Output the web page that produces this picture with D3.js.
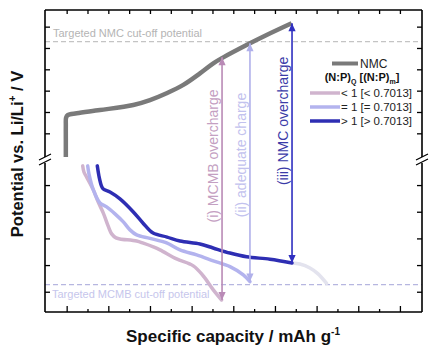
<!DOCTYPE html>
<html>
<head>
<meta charset="utf-8">
<script src="https://cdn.jsdelivr.net/npm/d3@7"></script>
<style>
  body { margin: 0; background: #fff; }
  svg { display: block; font-family: Arial, "Liberation Sans", sans-serif; }
</style>
</head>
<body>
<div id="chart"></div>
<script>
// NMC charge curve (upper panel, V vs Li/Li+)
const nmcCap = [-0.4, -0.4, -0.4, -0.3, 0.5, 4.8, 16, 32, 40, 48, 56, 64, 70.4, 75.2, 88, 96, 108];
const nmcV = [3.389, 3.469, 3.539, 3.572, 3.585, 3.594, 3.609, 3.633, 3.656, 3.688, 3.727, 3.781, 3.828, 3.856, 3.922, 3.961, 4.016];

// MCMB curves (lower panel)
const ltCap = [7.7, 8.3, 9.6, 12.8, 15.1, 17.6, 19.9, 21.6, 23.7, 25.6, 33.6, 36.8, 41.6, 44.8, 52.8, 60.8, 65.6, 70.4, 74.4];
const ltV = [0.472, 0.449, 0.430, 0.382, 0.337, 0.295, 0.247, 0.217, 0.202, 0.198, 0.190, 0.182, 0.168, 0.157, 0.123, 0.097, 0.059, 0.007, -0.031];
const eqCap = [10.1, 10.7, 12.8, 16.0, 19.2, 23.2, 27.2, 30.4, 33.6, 40.0, 48.0, 54.4, 62.4, 70.4, 78.4, 84.8, 88.0];
const eqV = [0.472, 0.442, 0.382, 0.333, 0.318, 0.292, 0.262, 0.232, 0.213, 0.200, 0.183, 0.157, 0.138, 0.116, 0.094, 0.063, 0.038];
const gtCap = [14.7, 15.5, 16.7, 17.6, 20.8, 25.6, 31.9, 36.7, 41.5, 48.2, 54.4, 64.0, 70.3, 78.4, 86.4, 97.6, 108.2];
const gtV = [0.472, 0.434, 0.397, 0.385, 0.374, 0.348, 0.300, 0.257, 0.220, 0.205, 0.190, 0.179, 0.164, 0.145, 0.131, 0.122, 0.108];
const tailCap = [108.2, 112.0, 116.8, 120.7, 124.8];
const tailV = [0.108, 0.104, 0.089, 0.067, 0.031];

// cut-off potentials
const nmcCutoff = 3.93;
const mcmbCutoff = 0.027;

// double arrows
const arrowCap = [74.6, 88.0, 108.2];
const arrowTop = [3.856, 3.922, 4.016];
const arrowBot = [-0.031, 0.038, 0.108];
const arrowLabels = ['(i) MCMB overcharge', '(ii) adequate charge', '(iii) NMC overcharge'];
const arrowLabelMid = [3.394, 3.398, 3.558];

// ticks
const xMajor = [0, 20, 40, 60, 80, 100, 120, 140, 160];
const xMinor = [10, 30, 50, 70, 90, 110, 130, 150];
const xTop = [0, 10, 20, 30, 40, 50, 60, 70, 80, 90, 100, 110, 120, 130, 140, 150, 160];
const yUpperTicks = [3.5, 3.6, 3.7, 3.8, 3.9, 4.0];
const yLowerTicks = [0, 0.1, 0.2, 0.3, 0.4];

const legendLabels = ['< 1 [< 0.7013]', '= 1 [= 0.7013]', '> 1 [> 0.7013]'];

const W = 431, H = 352;
const L = 45, R = 422, T = 10, B = 312, BRK = 160;
const curveCol = ['#d0b4ce', '#b3b3ee', '#2e2eb3'];
const arrowCol = ['#b98ab6', '#b0b0ea', '#2f2fc0'];
const labelCol = ['#c4a0c2', '#c2c2ee', '#3b3ba8'];

const x = d3.scaleLinear().domain([-10.4, 170.6]).range([L, R]);
const yU = d3.scaleLinear().domain([3.375, 4.078]).range([BRK, T]);
const yL = d3.scaleLinear().domain([-0.076, 0.494]).range([B, BRK]);

const svg = d3.select('#chart').append('svg')
  .attr('width', W).attr('height', H);

// arrow heads
const defs = svg.append('defs');
arrowCol.forEach((c, i) => {
  defs.append('marker')
    .attr('id', 'ah' + i)
    .attr('viewBox', '0 0 10 10')
    .attr('refX', 10).attr('refY', 5)
    .attr('markerWidth', 9).attr('markerHeight', 8)
    .attr('markerUnits', 'userSpaceOnUse')
    .attr('orient', 'auto-start-reverse')
    .append('path').attr('d', 'M0,0.5L10,5L0,9.5Z').attr('fill', c);
});

// cut-off lines
svg.append('line')
  .attr('x1', L).attr('x2', R).attr('y1', yU(nmcCutoff)).attr('y2', yU(nmcCutoff))
  .attr('stroke', '#c4c4c4').attr('stroke-width', 1.3).attr('stroke-dasharray', '5,3');
svg.append('text').attr('x', 53).attr('y', yU(nmcCutoff) - 5)
  .attr('font-size', 11).attr('fill', '#b4b4b4').text('Targeted NMC cut-off potential');

svg.append('line')
  .attr('x1', L).attr('x2', R).attr('y1', yL(mcmbCutoff)).attr('y2', yL(mcmbCutoff))
  .attr('stroke', '#b6b6e0').attr('stroke-width', 1.3).attr('stroke-dasharray', '5,3');
svg.append('text').attr('x', 52).attr('y', yL(mcmbCutoff) + 13)
  .attr('font-size', 11).attr('fill', '#c6c6ec').text('Targeted MCMB cut-off potential');

const lineU = d3.line().x(d => x(d[0])).y(d => yU(d[1])).curve(d3.curveCatmullRom.alpha(0.5));
const lineL = d3.line().x(d => x(d[0])).y(d => yL(d[1])).curve(d3.curveCatmullRom.alpha(0.5));

// faded tail after dark-blue curve
svg.append('path').datum(d3.zip(tailCap, tailV))
  .attr('d', lineL).attr('fill', 'none')
  .attr('stroke', '#e3e3ee').attr('stroke-width', 3.5).attr('stroke-linecap', 'round');

// lower curves
[[ltCap, ltV], [eqCap, eqV], [gtCap, gtV]].forEach(([c, v], i) => {
  svg.append('path').datum(d3.zip(c, v))
    .attr('d', lineL).attr('fill', 'none')
    .attr('stroke', curveCol[i]).attr('stroke-width', 3.5)
    .attr('stroke-linejoin', 'round').attr('stroke-linecap', 'round');
});

// NMC curve
svg.append('path').datum(d3.zip(nmcCap, nmcV))
  .attr('d', lineU).attr('fill', 'none')
  .attr('stroke', '#7a7a7a').attr('stroke-width', 4.5).attr('stroke-linejoin', 'round');

// double arrows + labels
arrowCap.forEach((c, i) => {
  svg.append('line')
    .attr('x1', x(c)).attr('x2', x(c))
    .attr('y1', yU(arrowTop[i])).attr('y2', yL(arrowBot[i]))
    .attr('stroke', arrowCol[i]).attr('stroke-width', 1.6)
    .attr('marker-start', `url(#ah${i})`).attr('marker-end', `url(#ah${i})`);
  svg.append('text')
    .attr('transform', `translate(${x(c) - 4},${yU(arrowLabelMid[i])}) rotate(-90)`)
    .attr('text-anchor', 'middle').attr('font-size', 14)
    .attr('fill', labelCol[i]).text(arrowLabels[i]);
});

// axes (ticks only, frame drawn separately)
function ticks(g) { g.select('.domain').remove(); g.selectAll('line').attr('stroke', '#000').attr('stroke-width', 1.3); }
svg.append('g').attr('transform', `translate(0,${B})`)
  .call(d3.axisBottom(x).tickValues(xMajor).tickSize(-6).tickFormat('')).call(ticks);
svg.append('g').attr('transform', `translate(0,${B})`)
  .call(d3.axisBottom(x).tickValues(xMinor).tickSize(-3).tickFormat('')).call(ticks);
svg.append('g').attr('transform', `translate(0,${T})`)
  .call(d3.axisTop(x).tickValues(xTop).tickSize(-4).tickFormat('')).call(ticks);
[[yU, yUpperTicks], [yL, yLowerTicks]].forEach(([s, tv]) => {
  svg.append('g').attr('transform', `translate(${L},0)`)
    .call(d3.axisLeft(s).tickValues(tv).tickSize(-5).tickFormat('')).call(ticks);
  svg.append('g').attr('transform', `translate(${R},0)`)
    .call(d3.axisRight(s).tickValues(tv).tickSize(-5).tickFormat('')).call(ticks);
});

// frame with axis breaks
const frame = svg.append('g').attr('stroke', '#000').attr('stroke-width', 1.6).attr('fill', 'none');
frame.append('path').attr('d', `M${L},${T}H${R}M${L},${B}H${R}`);
[L, R].forEach(px => {
  frame.append('path').attr('d', `M${px},${T}V${BRK - 3}M${px},${BRK + 3}V${B}`);
  frame.append('path').attr('stroke-width', 1.2)
    .attr('d', `M${px - 6},${BRK}L${px + 6},${BRK - 6}M${px - 6},${BRK + 5}L${px + 6},${BRK - 1}`);
});

// legend
const lg = svg.append('g');
lg.append('line').attr('x1', 332).attr('x2', 358).attr('y1', 63.5).attr('y2', 63.5)
  .attr('stroke', '#7a7a7a').attr('stroke-width', 4);
lg.append('text').attr('x', 360).attr('y', 68).attr('font-size', 12).attr('fill', '#222').text('NMC');
const title = lg.append('text').attr('x', 362).attr('y', 81)
  .attr('text-anchor', 'middle').attr('font-size', 11).attr('font-weight', 'bold').attr('fill', '#111');
title.append('tspan').text('(N:P)');
title.append('tspan').attr('font-size', 7).attr('dy', 3).text('Q');
title.append('tspan').attr('dy', -3).text(' [(N:P)');
title.append('tspan').attr('font-size', 7).attr('dy', 3).text('m');
title.append('tspan').attr('dy', -3).text(']');
legendLabels.forEach((t, i) => {
  const yy = 93 + i * 14;
  lg.append('line').attr('x1', 310).attr('x2', 340).attr('y1', yy).attr('y2', yy)
    .attr('stroke', curveCol[i]).attr('stroke-width', 3.5);
  lg.append('text').attr('x', 341).attr('y', yy + 4).attr('font-size', 11.5).attr('fill', '#222').text(t);
});

// axis titles
const yt = svg.append('text')
  .attr('transform', `translate(23,154) rotate(-90)`)
  .attr('text-anchor', 'middle').attr('font-size', 16.5).attr('font-weight', 'bold').attr('fill', '#111');
yt.append('tspan').text('Potential vs. Li/Li');
yt.append('tspan').attr('font-size', 10).attr('dy', -7).text('+');
yt.append('tspan').attr('dy', 7).text(' / V');

const xt = svg.append('text')
  .attr('x', 233).attr('y', 342)
  .attr('text-anchor', 'middle').attr('font-size', 17).attr('font-weight', 'bold').attr('fill', '#111');
xt.append('tspan').text('Specific capacity / mAh g');
xt.append('tspan').attr('font-size', 10).attr('dy', -7).text('-1');
</script>
</body>
</html>
